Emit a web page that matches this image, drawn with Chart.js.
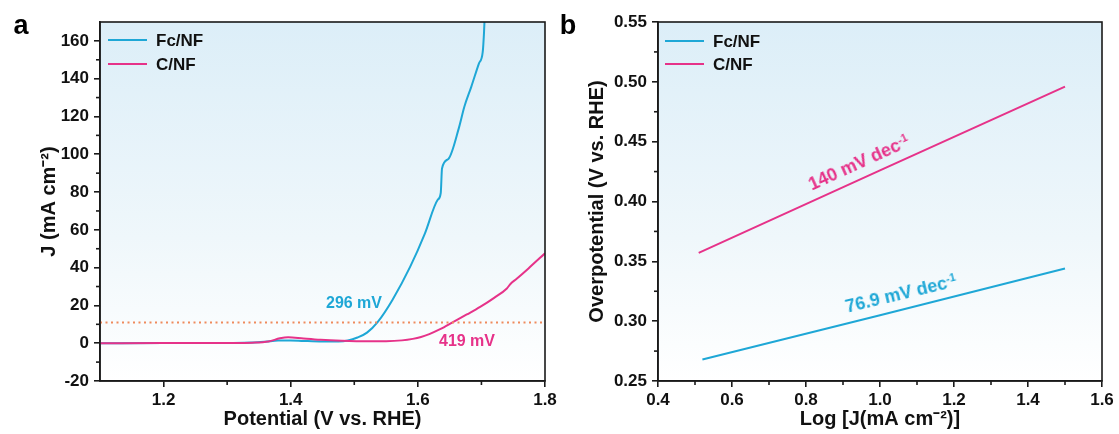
<!DOCTYPE html>
<html><head><meta charset="utf-8">
<script src="https://cdn.jsdelivr.net/npm/chart.js@4.4.1/dist/chart.umd.min.js"></script>
<style>
html,body{margin:0;padding:0;background:#fff;}
#wrap{position:relative;width:1119px;height:434px;overflow:hidden;font-family:"Liberation Sans",Arial,sans-serif;font-weight:bold;}
.cv{position:absolute;top:0;}
.lbl{position:absolute;white-space:nowrap;transform:translate(-50%,-50%);line-height:1.15;}
.lbl sup{font-size:0.6em;vertical-align:baseline;position:relative;top:-0.6em;}
</style></head><body>
<div id="wrap">
<canvas id="ca" class="cv" style="left:0" width="560" height="434"></canvas>
<canvas id="cb" class="cv" style="left:560px" width="559" height="434"></canvas>
<div class="lbl" style="left:21px;top:26px;font-size:27px;color:#000">a</div>
<div class="lbl" style="left:568px;top:26px;font-size:27px;color:#000">b</div>
<div class="lbl" style="left:354px;top:303px;font-size:16px;color:#1ea7d6">296 mV</div>
<div class="lbl" style="left:467px;top:341px;font-size:16px;color:#e63289">419 mV</div>
<div class="lbl" style="left:859px;top:163px;font-size:18px;color:#e63289;transform:translate(-50%,-50%) rotate(-24.5deg)">140 mV dec<sup>-1</sup></div>
<div class="lbl" style="left:901px;top:294px;font-size:18px;color:#1ea7d6;transform:translate(-50%,-50%) rotate(-13.5deg)">76.9 mV dec<sup>-1</sup></div>
</div>
<script>
// ---- Panel a: LSV curves ----
const fcPotential = [1.100,1.200,1.300,1.340,1.360,1.380,1.400,1.420,1.450,1.475,1.490,1.505,1.520,1.537,1.560,1.588,1.611,1.631,1.636,1.638,1.648,1.665,1.673,1.684,1.696,1.702,1.704,1.705];
const fcCurrent   = [0,0.05,0.15,0.35,0.8,1.4,1.5,1.2,0.9,0.9,1.4,3.0,5.6,11.3,22.9,40.5,58,75.8,79.5,92.5,97.5,114.5,125,135.7,148,154,164,172];
const cPotential  = [1.100,1.200,1.300,1.340,1.365,1.383,1.396,1.420,1.447,1.480,1.520,1.550,1.575,1.592,1.605,1.618,1.635,1.656,1.677,1.698,1.720,1.740,1.746,1.755,1.774,1.800];
const cCurrent    = [0,0.05,0.15,0.3,0.9,2.6,3.2,2.5,1.8,1.3,1.0,1.05,1.5,2.3,3.3,4.8,7.4,11.3,15.2,19.2,24,29,31.5,34,39.6,47.6];
const refCurrent = 11;
const refPotential = [1.1, 1.8];
const aXTicks = [1.2,1.4,1.6,1.8];
const aXMinor = [1.3,1.5,1.7];
const aYTicks = [-20,0,20,40,60,80,100,120,140,160];
const aYMinor = [-10,10,30,50,70,90,110,130,150];

// ---- Panel b: Tafel plots ----
const tafelFcLog = [0.52, 1.00, 1.50];
const tafelFcEta = [0.268, 0.305, 0.344];
const tafelCLog  = [0.51, 1.00, 1.50];
const tafelCEta  = [0.357, 0.426, 0.496];
const bXTicks = [0.4,0.6,0.8,1.0,1.2,1.4,1.6];
const bXMinor = [0.5,0.7,0.9,1.1,1.3,1.5];
const bYTicks = [0.25,0.30,0.35,0.40,0.45,0.50,0.55];
const bYMinor = [0.275,0.325,0.375,0.425,0.475,0.525];

const seriesNames = ['Fc/NF','C/NF'];
const CYAN = '#1ea7d6', MAGENTA = '#e63289', REF = '#ef8a5d', AX = '#1a1a1a';

Chart.defaults.font.family = '"Liberation Sans", Arial, sans-serif';
Chart.defaults.font.weight = 'bold';
Chart.defaults.color = '#111';

const zip = (xs, ys) => xs.map((x,i)=>({x, y: ys[i]}));

const boxPlugin = {
  id: 'box',
  beforeDraw(chart, args, o) {
    const {ctx, chartArea: a} = chart;
    const g = ctx.createLinearGradient(0, a.top, 0, a.bottom);
    g.addColorStop(0, '#dceef8');
    g.addColorStop(0.6, '#eff7fb');
    g.addColorStop(1, '#ffffff');
    ctx.save(); ctx.fillStyle = g;
    ctx.fillRect(a.left, a.top, a.right - a.left, a.bottom - a.top);
    ctx.restore();
  },
  afterDraw(chart, args, o) {
    const {ctx, chartArea: a, scales} = chart;
    ctx.save();
    ctx.strokeStyle = AX; ctx.lineWidth = 1.6;
    ctx.strokeRect(a.left, a.top, a.right - a.left, a.bottom - a.top);
    o.minorX.forEach(v => { const x = scales.x.getPixelForValue(v); ctx.beginPath(); ctx.moveTo(x, a.bottom); ctx.lineTo(x, a.bottom + 4); ctx.stroke(); });
    o.minorY.forEach(v => { const y = scales.y.getPixelForValue(v); ctx.beginPath(); ctx.moveTo(a.left, y); ctx.lineTo(a.left - 4, y); ctx.stroke(); });
    // legend
    let y = o.legendY;
    ctx.font = 'bold 17px "Liberation Sans", Arial, sans-serif';
    ctx.textBaseline = 'middle'; ctx.textAlign = 'left';
    chart.data.datasets.forEach(ds => {
      if (!ds.inLegend) return;
      ctx.strokeStyle = ds.borderColor; ctx.lineWidth = 2.2;
      ctx.beginPath(); ctx.moveTo(o.legendX, y); ctx.lineTo(o.legendX + 39, y); ctx.stroke();
      ctx.fillStyle = '#111';
      ctx.fillText(ds.label, o.legendX + 48, y + 1);
      y += o.legendGap;
    });
    ctx.restore();
  }
};

function scaleOpts(min, max, ticks, fmt, title, titlePad, size, axisKind) {
  return {
    type: 'linear', min, max,
    afterBuildTicks: s => { s.ticks = ticks.map(v => ({value: v})); },
    afterFit: s => { if (axisKind === 'y') s.width = size; else s.height = size; },
    grid: { drawOnChartArea: false, drawTicks: true, tickLength: 6, color: AX, lineWidth: 1.6 },
    border: { display: true, color: AX, width: 1.6 },
    ticks: { padding: axisKind === 'y' ? 5 : 3, font: {size: 17, weight: 'bold'}, color: '#111', callback: v => fmt(v), maxRotation: 0, autoSkip: false },
    title: { display: true, text: title, font: {size: 20, weight: 'bold'}, color: '#111', padding: titlePad }
  };
}

new Chart(document.getElementById('ca'), {
  type: 'line',
  data: { datasets: [
    { label: seriesNames[0], data: zip(fcPotential, fcCurrent), borderColor: CYAN, borderWidth: 2, pointRadius: 0, cubicInterpolationMode: 'monotone', inLegend: true, order: 2 },
    { label: seriesNames[1], data: zip(cPotential, cCurrent), borderColor: MAGENTA, borderWidth: 2, pointRadius: 0, cubicInterpolationMode: 'monotone', inLegend: true, order: 1 },
    { label: 'ref', data: zip(refPotential, refPotential.map(() => refCurrent)), borderColor: REF, borderWidth: 2, borderDash: [2, 3.5], pointRadius: 0, order: 0 }
  ]},
  options: {
    responsive: false, animation: false, events: [],
    layout: { padding: { left: 0, top: 22, right: 15, bottom: 0 } },
    plugins: { legend: { display: false }, tooltip: { enabled: false },
      box: { minorX: aXMinor, minorY: aYMinor, legendX: 108, legendY: 40, legendGap: 24 } },
    scales: {
      x: scaleOpts(1.1, 1.8, aXTicks, v => v.toFixed(1), 'Potential (V vs. RHE)', {top: 0, bottom: 2.5}, 53, 'x'),
      y: scaleOpts(-20, 170, aYTicks, v => String(v), 'J (mA cm⁻²)', {top: 37, bottom: 0}, 100, 'y')
    }
  },
  plugins: [boxPlugin]
});

new Chart(document.getElementById('cb'), {
  type: 'line',
  data: { datasets: [
    { label: seriesNames[0], data: zip(tafelFcLog, tafelFcEta), borderColor: CYAN, borderWidth: 2, pointRadius: 0, inLegend: true },
    { label: seriesNames[1], data: zip(tafelCLog, tafelCEta), borderColor: MAGENTA, borderWidth: 2, pointRadius: 0, inLegend: true }
  ]},
  options: {
    responsive: false, animation: false, events: [],
    layout: { padding: { left: 0, top: 22, right: 17, bottom: 0 } },
    plugins: { legend: { display: false }, tooltip: { enabled: false },
      box: { minorX: bXMinor, minorY: bYMinor, legendX: 105, legendY: 41, legendGap: 23 } },
    scales: {
      x: scaleOpts(0.4, 1.6, bXTicks, v => v.toFixed(1), 'Log [J(mA cm⁻²)]', {top: 0, bottom: 2.5}, 53, 'x'),
      y: scaleOpts(0.25, 0.55, bYTicks, v => v.toFixed(2), 'Overpotential (V vs. RHE)', {top: 25, bottom: 0}, 98, 'y')
    }
  },
  plugins: [boxPlugin]
});
</script>
</body></html>
